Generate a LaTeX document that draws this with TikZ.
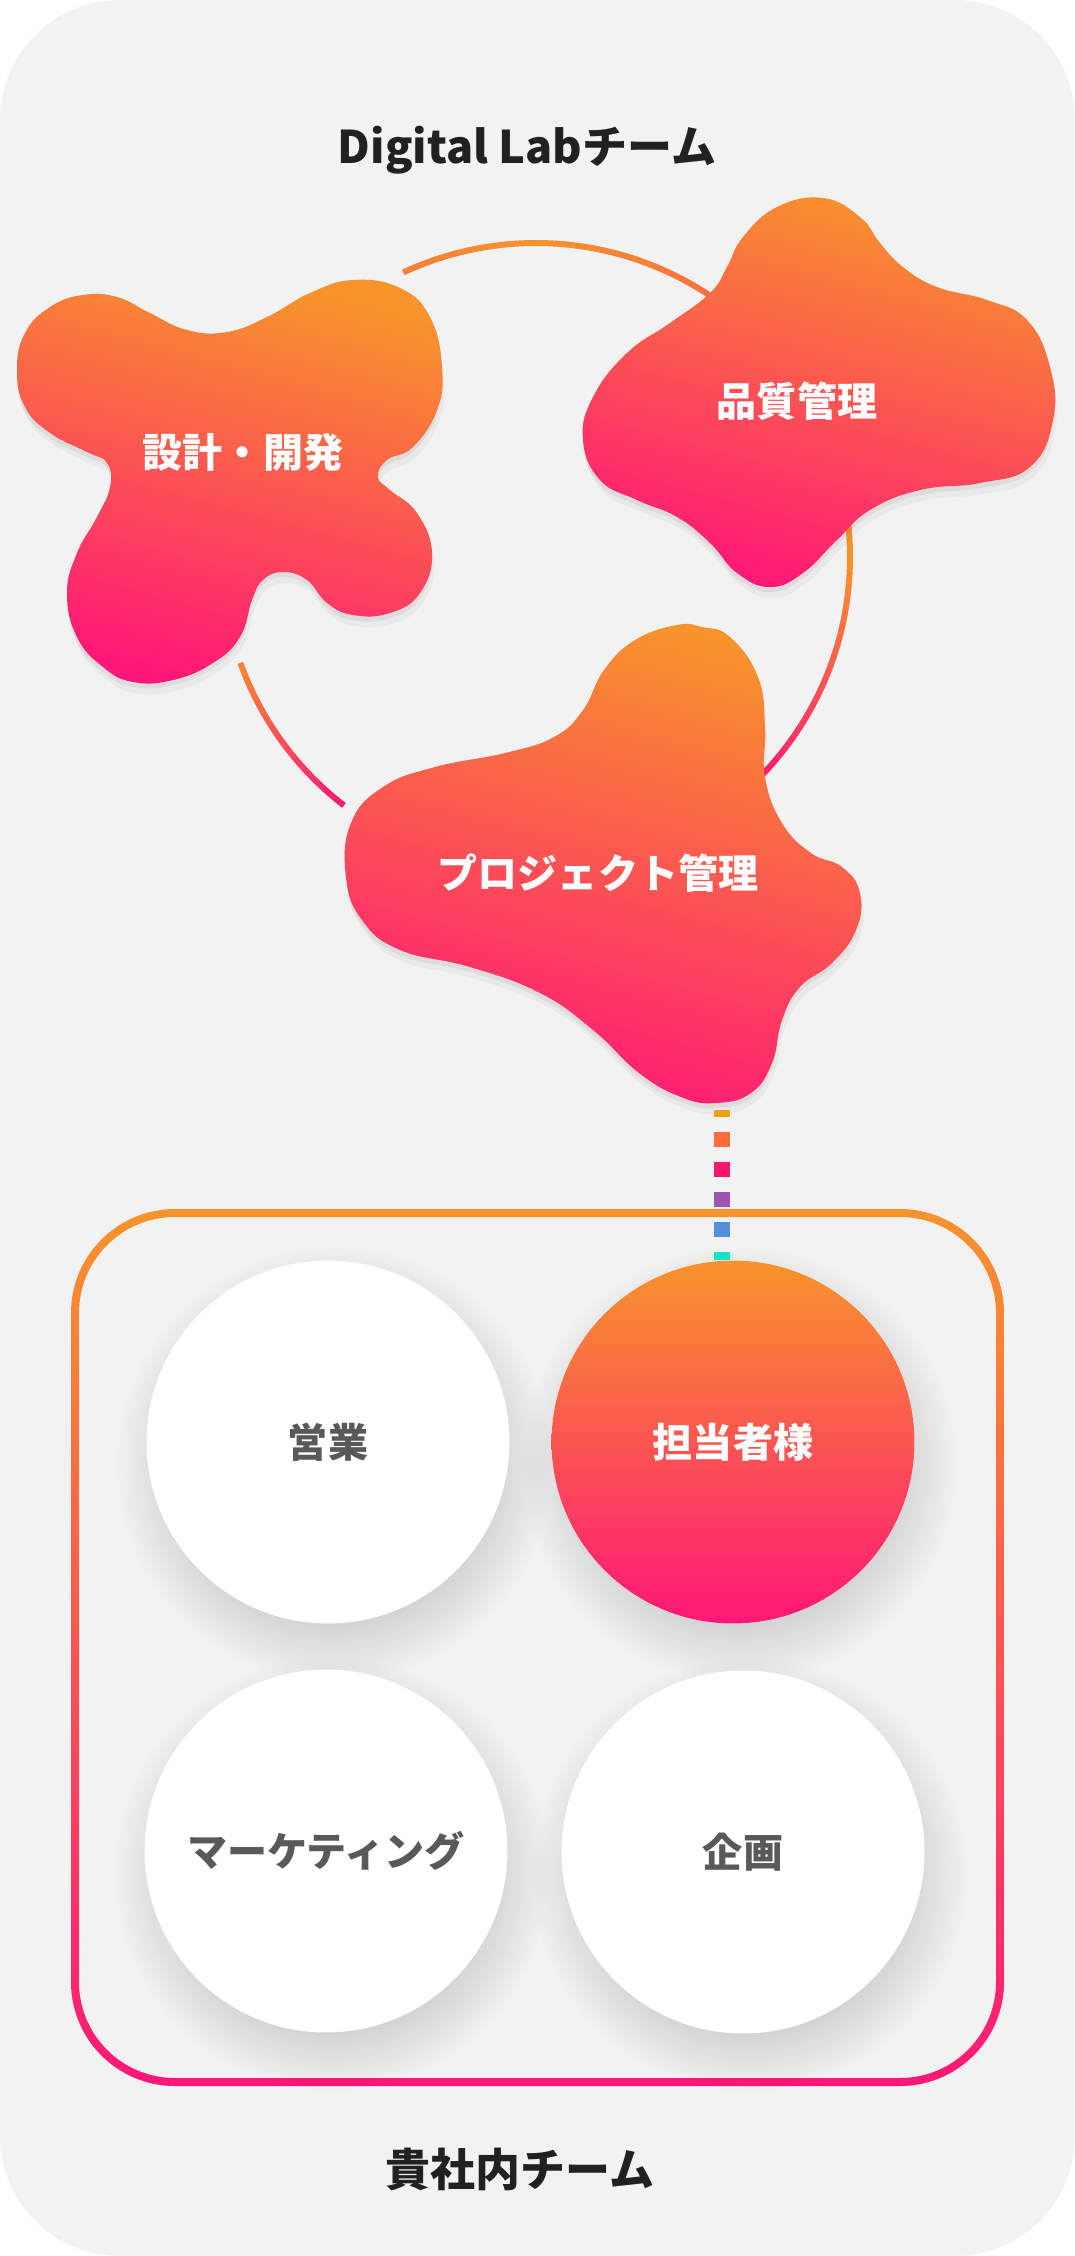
\documentclass[tikz,border=0pt]{standalone}
\usepackage{fontspec}
\setmainfont{Noto Sans CJK JP}
\usepackage{tikz}
\usetikzlibrary{calc,fadings}
\pgfdeclareradialshading{softedgeshade}{\pgfpointorigin}{color(0bp)=(pgftransparent!0); color(14bp)=(pgftransparent!0); color(25bp)=(pgftransparent!100); color(50bp)=(pgftransparent!100)}
\pgfdeclarefading{softedge}{\pgfuseshading{softedgeshade}}

\begin{document}
\begin{tikzpicture}[x=0.02cm,y=-0.02cm,
	blob/.style={preaction={fill=black,opacity=0.05,transform canvas={yshift=-0.1cm}},
		preaction={fill=black,opacity=0.035,transform canvas={xshift=0.04cm,yshift=-0.22cm}},
		top color=cor,bottom color=cpk,shading angle=-15},
	blobtext/.style={text=white,font=\fontsize{22.8pt}{27pt}\selectfont\bfseries},
	member/.style={circle,minimum size=7.26cm,inner sep=0pt,fill=white,text=clab,
		font=\fontsize{22.8pt}{27pt}\selectfont\bfseries},
	lead/.style={member,top color=cor,bottom color=cpk,text=white},
	softshadow/.style={fill=black,opacity=0.2,path fading=softedge},
	teamtitle/.style={text=ctit,font=\fontsize{25.6pt}{30pt}\selectfont\bfseries},
	ringline/.style={line width=0.12cm},
	dotline/.style={line width=0.33cm,dash pattern=on 0.3cm off 3.3cm},
	]
			\definecolor{cor}{rgb}{0.97,0.58,0.17}
			\definecolor{cpk}{rgb}{1.0,0.09,0.47}
			\definecolor{cbg}{rgb}{0.949,0.949,0.949}
			\definecolor{clab}{rgb}{0.35,0.35,0.35}
			\definecolor{ctit}{rgb}{0.13,0.13,0.13}
			\definecolor{cd0}{rgb}{0.95,0.62,0.09}
			\definecolor{cd1}{rgb}{1.0,0.42,0.23}
			\definecolor{cd2}{rgb}{0.96,0.09,0.42}
			\definecolor{cd3}{rgb}{0.61,0.33,0.69}
			\definecolor{cd4}{rgb}{0.32,0.57,0.85}
			\definecolor{cd5}{rgb}{0.09,0.89,0.77}
			%
			\useasboundingbox (0,0) rectangle (1075,2256);
			\fill[white] (0,0) rectangle (1075,2256);
			\fill[cbg,rounded corners=2.4cm] (0,0) rectangle (1075,2256);
			%
			\node[teamtitle] (labtitle) at (527,150) {Digital Labチーム};
			\node[teamtitle] (clienttitle) at (520,2169) {貴社内チーム};
			%
			\coordinate (ring) at (536,557);
			\foreach \a in {245,247.5,...,307.5}{
				\pgfmathsetmacro\m{abs(\a-268)*0.8}
				\draw[ringline,cpk!\m!cor] (ring) ++(\a:314) arc[start angle=\a,end angle=\a+2.6,radius=314];
			}
			\foreach \a in {-10,-7.5,...,44.5}{
				\pgfmathsetmacro\m{max(0,min(95,\a*2.3))}
				\draw[ringline,cpk!\m!cor] (ring) ++(\a:314) arc[start angle=\a,end angle=\a+2.6,radius=314];
			}
			\foreach \a in {127.7,130.2,...,158.2}{
				\pgfmathsetmacro\m{min(95,(160.7-\a)*2.8+5)}
				\draw[ringline,cpk!\m!cor] (ring) ++(\a:314) arc[start angle=\a,end angle=\a+2.6,radius=314];
			}
			%
			\shade[blob] plot[smooth cycle,tension=0.75] coordinates {(83,295) (50,307) (25,333) (17,370) (25,407) (50,433) (87,452) (107,463) (110,487) (97,517) (77,553) (67,593) (77,637) (103,667) (133,682) (173,680) (213,663) (240,637) (252,600) (263,580) (283,572) (307,580) (327,603) (353,615) (390,613) (420,593) (432,553) (417,513) (390,490) (378,477) (387,460) (413,447) (437,410) (442,367) (430,317) (400,288) (353,280) (310,293) (267,317) (227,332) (187,330) (150,313) (117,297)};
			\shade[blob] plot[smooth cycle,tension=0.75] coordinates {(823,198) (777,207) (743,237) (727,267) (710,293) (670,323) (627,353) (593,397) (583,440) (600,480) (637,500) (677,517) (710,543) (737,573) (770,587) (803,573) (837,540) (870,510) (920,490) (980,483) (1030,467) (1053,420) (1050,367) (1027,320) (987,300) (937,287) (903,267) (880,243) (860,217)};
			\shade[blob] plot[smooth cycle,tension=0.75] coordinates {(677,625) (635,640) (604,670) (583,710) (554,737) (505,753) (435,767) (383,787) (351,823) (346,877) (362,920) (400,950) (470,967) (540,993) (593,1030) (639,1073) (681,1097) (716,1103) (751,1093) (772,1063) (782,1020) (800,987) (832,963) (856,930) (860,893) (842,867) (811,853) (782,823) (765,777) (765,727) (758,677) (730,637) (702,627)};
			\coordinate (pmfoot) at (722,1110);
			%
			\node[blobtext] (design) at (243,452) {設計・開発};
			\node[blobtext] (quality) at (797,401) {品質管理};
			\node[blobtext] (project) at (598,873) {プロジェクト管理};
			%
			\shade[even odd rule,top color=cor,bottom color=cpk]
				[rounded corners=2.08cm] (71,1209) rectangle (1004,2086)
				[rounded corners=1.92cm] (79,1217) rectangle (996,2078);
			%
			\coordinate (psales) at (328,1442);
			\coordinate (ptanto) at (733,1442);
			\coordinate (pmarketing) at (326,1851);
			\coordinate (pplanning) at (743,1852);
			\foreach \p in {psales,ptanto,pmarketing,pplanning}
				\fill[softshadow] ($(\p)+(6,22)$) circle (218);
			\node[member] (sales) at (psales) {営業};
			\node[lead] (tanto) at (ptanto) {担当者様};
			\node[member] (marketing) at (pmarketing) {マーケティング};
			\node[member] (planning) at (pplanning) {企画};
			%
			\foreach \c [count=\i from 0] in {cd0,cd1,cd2,cd3,cd4,cd5}{
				\pgfmathsetmacro\ph{mod(3.76-0.6*\i,3.6)}
				\draw[dotline,\c,dash phase=\ph cm] (pmfoot) -- (pmfoot |- tanto.north);
			}
			%
\end{tikzpicture}
\end{document}
